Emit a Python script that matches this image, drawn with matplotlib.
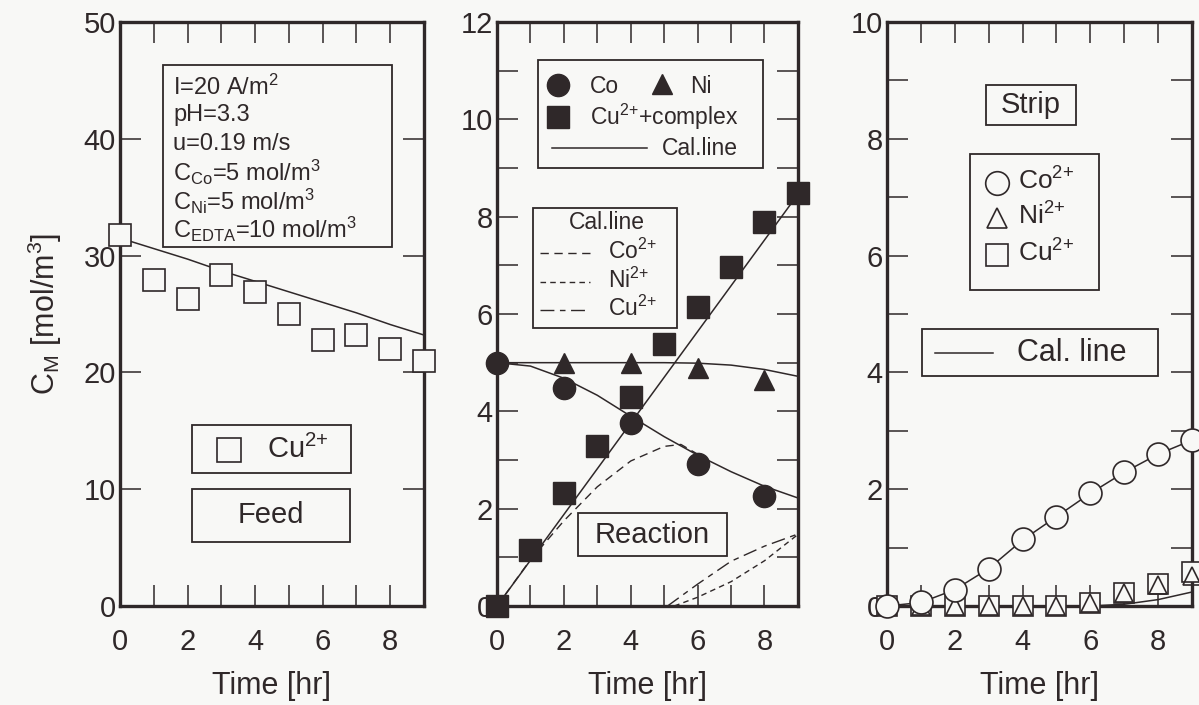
import matplotlib
matplotlib.use("Agg")
import matplotlib.pyplot as plt
from matplotlib.patches import Rectangle
from matplotlib.ticker import MultipleLocator

plt.rcParams['font.family'] = ['Liberation Sans', 'DejaVu Sans']
plt.rcParams['mathtext.default'] = 'regular'

INK = '#2f2829'
BG = '#f8f8f6'

# time axis [hr]
t = [0, 1, 2, 3, 4, 5, 6, 7, 8, 9]

# feed side
feed_cu = [31.8, 27.9, 26.3, 28.3, 26.9, 25.0, 22.8, 23.2, 22.0, 21.0]
feed_cal = [31.5, 30.6, 29.7, 28.7, 27.8, 26.9, 26.0, 25.1, 24.1, 23.2]

# reaction side
rx_t = [0, 2, 4, 6, 8]
rx_co = [5.0, 4.48, 3.76, 2.92, 2.26]
rx_ni_t = [2, 4, 6, 8]
rx_ni = [5.0, 5.0, 4.89, 4.64]
rx_cu = [0.0, 1.15, 2.32, 3.29, 4.29, 5.38, 6.14, 6.97, 7.89, 8.49]
rx_co_cal = [5.0, 4.93, 4.68, 4.33, 3.90, 3.48, 3.10, 2.76, 2.46, 2.22]
rx_ni_cal = [5.0, 5.0, 5.0, 5.0, 5.0, 5.0, 4.99, 4.95, 4.86, 4.72]
rx_cu_cal = [0.0, 0.94, 1.88, 2.82, 3.76, 4.70, 5.64, 6.58, 7.52, 8.46]
co2_t = [0, 1, 2, 3, 4, 5, 5.5, 6]
co2_cal = [0.0, 0.95, 1.75, 2.45, 2.98, 3.28, 3.32, 3.12]
ni2_t = [5.3, 6, 7, 8, 9]
ni2_cal = [0.0, 0.18, 0.50, 0.93, 1.47]
cu2_t = [5.1, 6, 7, 8, 9]
cu2_cal = [0.0, 0.45, 0.92, 1.23, 1.48]

# strip side
strip_co = [0.0, 0.07, 0.27, 0.63, 1.15, 1.53, 1.93, 2.29, 2.60, 2.84]
strip_ni = [0.0, 0.0, 0.0, 0.0, 0.0, 0.0, 0.05, 0.22, 0.36, 0.52]
strip_cu = [0.0, 0.0, 0.0, 0.0, 0.0, 0.0, 0.06, 0.22, 0.38, 0.58]
strip_co_cal = [0.0, 0.06, 0.28, 0.64, 1.13, 1.53, 1.93, 2.29, 2.60, 2.84]
strip_ni_cal = [0.0, 0.0, 0.0, 0.0, 0.0, 0.0, 0.0, 0.03, 0.11, 0.24]

CU2 = 'Cu$^{2{+}}$'
CO2 = 'Co$^{2{+}}$'
NI2 = 'Ni$^{2{+}}$'

fig = plt.figure(figsize=(11.99, 7.05), dpi=100, facecolor=BG)
ax1 = fig.add_axes([0.1001, 0.1404, 0.2535, 0.8284])
ax2 = fig.add_axes([0.4145, 0.1404, 0.2510, 0.8284])
ax3 = fig.add_axes([0.7398, 0.1404, 0.2544, 0.8284])


def frame(ax, ymax, ystep, yminor):
    ax.set_facecolor(BG)
    ax.set_xlim(0, 9)
    ax.set_ylim(0, ymax)
    ax.xaxis.set_major_locator(MultipleLocator(2))
    ax.xaxis.set_minor_locator(MultipleLocator(1))
    ax.yaxis.set_major_locator(MultipleLocator(ystep))
    if yminor:
        ax.yaxis.set_minor_locator(MultipleLocator(yminor))
    ax.set_xticks([0, 2, 4, 6, 8])
    ax.tick_params(which='both', direction='in', top=True, right=True,
                   length=15, width=1.1, color=INK, labelcolor=INK, labelsize=21)
    ax.tick_params(axis='x', which='both', pad=16)
    ax.tick_params(axis='y', which='both', pad=3)
    for s in ax.spines.values():
        s.set_linewidth(2.4)
        s.set_color(INK)
    ax.set_xlabel('Time [hr]', fontsize=22, color=INK)
    ax.xaxis.set_label_coords(0.5, -0.112)


def box(ax, x0, y0, x1, y1):
    ax.add_patch(Rectangle((x0, y0), x1 - x0, y1 - y0, transform=ax.transAxes,
                           fill=False, lw=1.3, ec=INK, zorder=5, clip_on=False))


def key(ax, x, y, **kw):
    ax.plot([x], [y], transform=ax.transAxes, clip_on=False, zorder=6,
            color=INK, mec=INK, ls='none', **kw)


def label(ax, x, y, s, size, ha='left'):
    ax.text(x, y, s, transform=ax.transAxes, fontsize=size, color=INK,
            ha=ha, va='center', zorder=6)


# ---- Feed ----
frame(ax1, 50, 10, None)
ax1.plot(t, feed_cal, color=INK, lw=1.1)
ax1.plot(t, feed_cu, ls='none', marker='s', ms=16, mfc=BG, mec=INK, mew=1.2,
         clip_on=False, zorder=4)
ax1.set_ylabel(r'C$_M$ [mol/m$^3$]', fontsize=22, color=INK)
ax1.yaxis.set_label_coords(-0.185, 0.5)

box(ax1, 0.141, 0.615, 0.895, 0.926)
params = ['I=20 A/m$^2$', 'pH=3.3', 'u=0.19 m/s', 'C$_{Co}$=5 mol/m$^3$',
          'C$_{Ni}$=5 mol/m$^3$', 'C$_{EDTA}$=10 mol/m$^3$']
for i, s in enumerate(params):
    label(ax1, 0.175, 0.889 - i * 0.049, s, 17)

box(ax1, 0.237, 0.228, 0.760, 0.310)
key(ax1, 0.359, 0.267, marker='s', ms=17, mfc=BG, mew=1.2)
label(ax1, 0.484, 0.269, CU2, 21)
box(ax1, 0.237, 0.110, 0.757, 0.200)
label(ax1, 0.497, 0.155, 'Feed', 21, ha='center')

# ---- Reaction ----
frame(ax2, 12, 2, 1)
ax2.plot(t, rx_cu_cal, color=INK, lw=1.1)
ax2.plot(t, rx_co_cal, color=INK, lw=1.1)
ax2.plot(t, rx_ni_cal, color=INK, lw=1.1)
ax2.plot(co2_t, co2_cal, color=INK, lw=1.0, dashes=(6, 4))
ax2.plot(ni2_t, ni2_cal, color=INK, lw=1.0, dashes=(4, 3))
ax2.plot(cu2_t, cu2_cal, color=INK, lw=1.0, dashes=(10, 4, 4, 4))
ax2.plot(t, rx_cu, ls='none', marker='s', ms=15.5, color=INK, clip_on=False, zorder=4)
ax2.plot(rx_t, rx_co, ls='none', marker='o', ms=16, color=INK, clip_on=False, zorder=4)
ax2.plot(rx_ni_t, rx_ni, ls='none', marker='^', ms=15, color=INK, clip_on=False, zorder=4)

box(ax2, 0.136, 0.750, 0.884, 0.935)
key(ax2, 0.203, 0.892, marker='o', ms=16)
label(ax2, 0.309, 0.890, 'Co', 16.5)
key(ax2, 0.548, 0.894, marker='^', ms=15)
label(ax2, 0.641, 0.890, 'Ni', 16.5)
key(ax2, 0.203, 0.837, marker='s', ms=15.5)
label(ax2, 0.309, 0.837, CU2 + '+complex', 16.5)
ax2.plot([0.183, 0.498], [0.784, 0.784], transform=ax2.transAxes, color=INK, lw=1.1, zorder=6)
label(ax2, 0.548, 0.784, 'Cal.line', 16.5)

box(ax2, 0.120, 0.476, 0.598, 0.682)
label(ax2, 0.365, 0.656, 'Cal.line', 16.5, ha='center')
for y, s, d in [(0.604, CO2, (6, 4)), (0.555, NI2, (4, 3)),
                (0.507, CU2, (10, 4, 4, 4))]:
    ax2.plot([0.143, 0.309], [y, y], transform=ax2.transAxes, color=INK, lw=1.0,
             dashes=d, zorder=6)
    label(ax2, 0.369, y + 0.003, s, 16.5)

box(ax2, 0.269, 0.086, 0.764, 0.159)
label(ax2, 0.517, 0.122, 'Reaction', 21, ha='center')

# ---- Strip ----
frame(ax3, 10, 2, 1)
ax3.plot(t, strip_ni_cal, color=INK, lw=1.1)
ax3.plot(t, strip_co_cal, color=INK, lw=1.1)
ax3.plot(t, strip_cu, ls='none', marker='s', ms=15, mfc=BG, mec=INK, mew=1.2,
         clip_on=False, zorder=4)
ax3.plot(t, strip_ni, ls='none', marker='^', ms=13, mfc='none', mec=INK, mew=1.2,
         clip_on=False, zorder=4)
ax3.plot(t, strip_co, ls='none', marker='o', ms=16.5, mfc=BG, mec=INK, mew=1.2,
         clip_on=False, zorder=4)

box(ax3, 0.325, 0.824, 0.620, 0.892)
label(ax3, 0.472, 0.858, 'Strip', 21, ha='center')

box(ax3, 0.272, 0.541, 0.695, 0.774)
for y, s, m, ms in [(0.724, CO2, 'o', 17), (0.664, NI2, '^', 15),
                    (0.601, CU2, 's', 16)]:
    key(ax3, 0.361, y, marker=m, ms=ms, mfc=BG, mew=1.2)
    label(ax3, 0.430, y + 0.004, s, 19)

box(ax3, 0.115, 0.394, 0.889, 0.474)
ax3.plot([0.157, 0.348], [0.433, 0.433], transform=ax3.transAxes, color=INK, lw=1.1, zorder=6)
label(ax3, 0.426, 0.433, 'Cal. line', 22)

fig.savefig('out.png', dpi=100, facecolor=BG)
